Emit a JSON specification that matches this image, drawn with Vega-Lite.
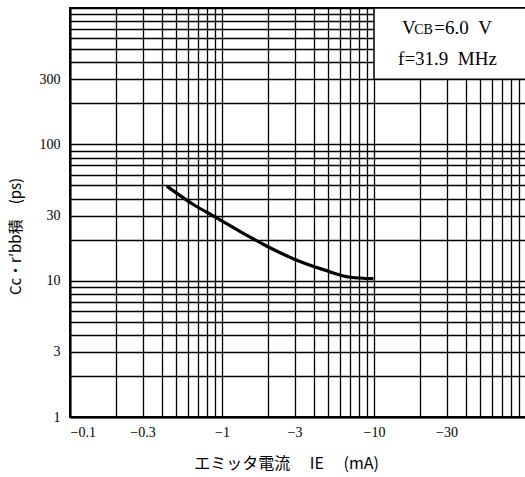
{
  "$schema": "https://vega.github.io/schema/vega-lite/v6.json",
  "width": 456,
  "height": 409,
  "autosize": {"type": "none"},
  "padding": {"left": 70, "top": 8, "right": 0, "bottom": 60},
  "background": "white",
  "config": {
    "view": {"stroke": "#000", "strokeWidth": 2},
    "axis": {
      "labelFont": "Liberation Serif",
      "labelFontSize": 14,
      "labelColor": "#000",
      "titleFont": "Noto Sans CJK JP",
      "titleFontSize": 14,
      "titleFontWeight": "normal",
      "titleColor": "#000",
      "gridColor": "#000",
      "gridOpacity": 1,
      "gridWidth": 1.3,
      "domainColor": "#000",
      "domainWidth": 2,
      "ticks": false
    }
  },
  "datasets": {
    "curve": [
      {"IE": -0.433, "CcRbb": 49.4},
      {"IE": -0.648, "CcRbb": 36.2},
      {"IE": -0.923, "CcRbb": 28.9},
      {"IE": -1.31, "CcRbb": 23.0},
      {"IE": -1.92, "CcRbb": 18.2},
      {"IE": -2.94, "CcRbb": 14.5},
      {"IE": -4.64, "CcRbb": 12.05},
      {"IE": -6.95, "CcRbb": 10.6},
      {"IE": -9.9, "CcRbb": 10.35}
    ],
    "box": [
      {"x1": -10, "x2": -100, "y1": 300, "y2": 1000}
    ]
  },
  "layer": [
    {
      "data": {"name": "curve"},
      "mark": {"type": "line", "color": "#000", "strokeWidth": 3.2, "interpolate": "monotone"},
      "encoding": {
        "x": {
          "field": "IE",
          "type": "quantitative",
          "scale": {"type": "log", "domain": [-0.1, -100], "nice": false},
          "axis": {
            "values": [-0.1, -0.2, -0.3, -0.4, -0.5, -0.6, -0.7, -0.8, -0.9, -1, -2, -3, -4, -5, -6, -7, -8, -9, -10, -20, -30, -40, -50, -60, -70, -80, -90, -100],
            "format": "~g",
            "labelExpr": "indexof([-0.1, -0.3, -1, -3, -10, -30], datum.value) >= 0 ? datum.label : ''",
            "labelPadding": 8,
            "labelOverlap": false,
            "title": "エミッタ電流　 IE 　(mA)",
            "titleFontSize": 16,
            "titleX": 216,
            "titleY": 46,
            "titleBaseline": "middle"
          }
        },
        "y": {
          "field": "CcRbb",
          "type": "quantitative",
          "scale": {"type": "log", "domain": [1, 1000], "nice": false},
          "axis": {
            "values": [1, 2, 3, 4, 5, 6, 7, 8, 9, 10, 20, 30, 40, 50, 60, 70, 80, 90, 100, 200, 300, 400, 500, 600, 700, 800, 900, 1000],
            "format": "~g",
            "labelExpr": "indexof([1, 3, 10, 30, 100, 300], datum.value) >= 0 ? datum.label : ''",
            "labelPadding": 10,
            "labelOverlap": false,
            "title": "Cc・r′bb積　(ps)",
            "titleFontSize": 15,
            "titleX": -55,
            "titleY": 228,
            "titleBaseline": "middle",
            "titleAlign": "center",
            "titleAngle": -90
          }
        }
      }
    },
    {
      "data": {"name": "box"},
      "mark": {"type": "rect", "fill": "white", "stroke": "#000", "strokeWidth": 1.5},
      "encoding": {
        "x": {"field": "x1", "type": "quantitative"},
        "x2": {"field": "x2"},
        "y": {"field": "y1", "type": "quantitative"},
        "y2": {"field": "y2"}
      }
    },
    {
      "data": {"values": [{"t": "V"}]},
      "mark": {"type": "text", "font": "Liberation Serif", "fontSize": 19, "align": "left", "baseline": "alphabetic", "color": "#000"},
      "encoding": {
        "text": {"field": "t"},
        "x": {"datum": -15.3, "type": "quantitative"},
        "y": {"datum": 644, "type": "quantitative"}
      }
    },
    {
      "data": {"values": [{"t": "CB"}]},
      "mark": {"type": "text", "font": "Liberation Serif", "fontSize": 14, "align": "left", "baseline": "alphabetic", "color": "#000"},
      "encoding": {
        "text": {"field": "t"},
        "x": {"datum": -18.4, "type": "quantitative"},
        "y": {"datum": 644, "type": "quantitative"}
      }
    },
    {
      "data": {"values": [{"t": "=6.0\u00a0\u00a0V"}]},
      "mark": {"type": "text", "font": "Liberation Serif", "fontSize": 19, "align": "left", "baseline": "alphabetic", "color": "#000"},
      "encoding": {
        "text": {"field": "t"},
        "x": {"datum": -24.9, "type": "quantitative"},
        "y": {"datum": 644, "type": "quantitative"}
      }
    },
    {
      "data": {"values": [{"t": "f=31.9\u00a0\u00a0MHz"}]},
      "mark": {"type": "text", "font": "Liberation Serif", "fontSize": 19, "align": "left", "baseline": "alphabetic", "color": "#000"},
      "encoding": {
        "text": {"field": "t"},
        "x": {"datum": -14.4, "type": "quantitative"},
        "y": {"datum": 381, "type": "quantitative"}
      }
    }
  ]
}
